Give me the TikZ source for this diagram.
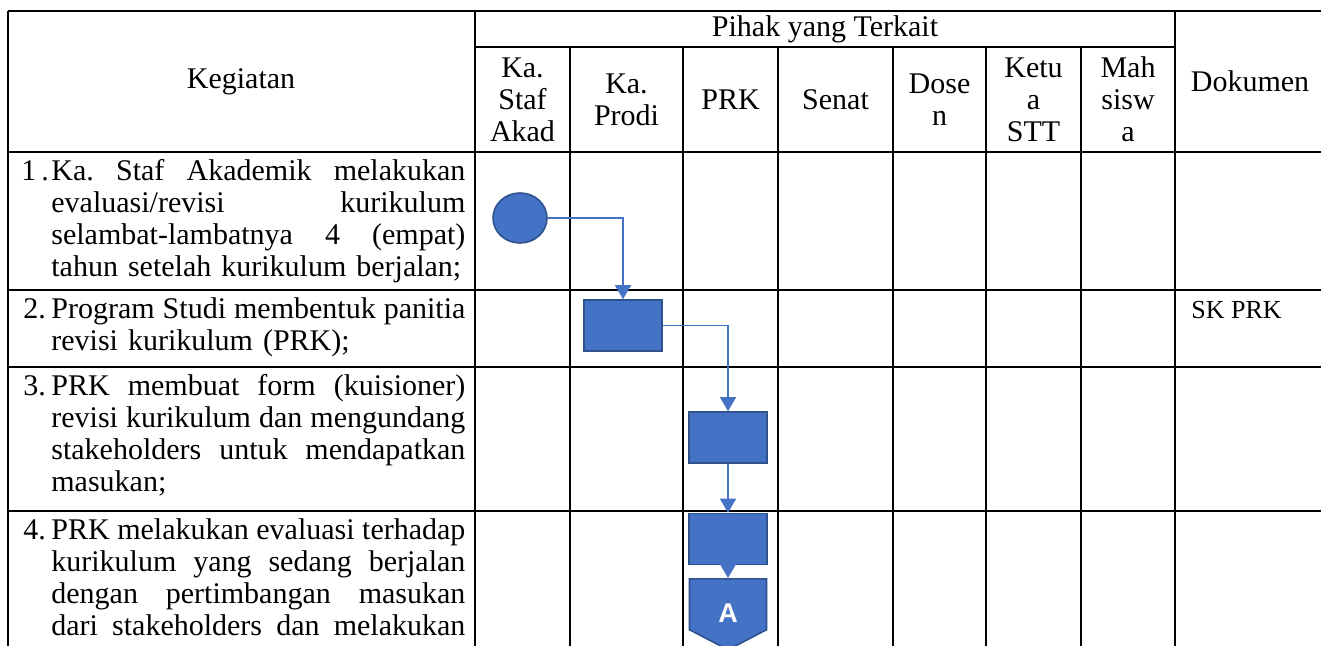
\documentclass[tikz,border=0pt]{standalone}
\usepackage{fontspec}
\setmainfont{Liberation Serif}
\newfontfamily\labelfont{Liberation Sans}
\usetikzlibrary{arrows.meta,shapes.geometric,shapes.symbols}
\definecolor{flowfill}{HTML}{4472C4}
\definecolor{flowedge}{HTML}{2F528F}
% one justified line of a task cell
\newcommand{\jline}[1]{\leavevmode{\spaceskip=0.25em plus 1fil\hbox to 207pt{#1}}}
\frenchspacing

\begin{document}
\begin{tikzpicture}[
  x=0.5pt, y=-0.5pt,
  font=\fontsize{15}{16}\selectfont,
  >={Triangle[width=8pt,length=7pt]},
  grid/.style={line width=1pt, draw=black},
  head/.style={align=center, inner sep=0pt},
  num/.style={anchor=base west, inner sep=0pt},
  task/.style={anchor=base west, text width=207pt, align=left, inner sep=0pt},
  startnode/.style={ellipse, fill=flowfill, draw=flowedge, line width=0.8pt,
                    minimum width=27pt, minimum height=25pt, inner sep=0pt},
  process/.style={rectangle, fill=flowfill, draw=flowedge, line width=0.8pt,
                  minimum width=39pt, minimum height=25.5pt, inner sep=0pt},
  offpage/.style={signal, signal to=south, signal pointer angle=125,
                  fill=flowfill, draw=flowedge, line width=0.8pt,
                  minimum width=38.5pt, minimum height=28pt, inner sep=0pt,
                  text=white, font=\labelfont\bfseries\fontsize{13.5}{14}\selectfont},
  flow/.style={->, line width=0.6pt, draw=flowfill}
]
\useasboundingbox (0,0) rectangle (1321,645);
\clip (0,0) rectangle (1321,645);

% Table grid
\draw[grid] (8,11) -- (1330,11);
\draw[grid] (475,47) -- (1175,47);
\draw[grid] (8,152) -- (1330,152);
\foreach \y in {290,367,511}
  \draw[grid] (8,\y) -- (1330,\y);
\foreach \x in {8,475,1175}
  \draw[grid] (\x,11) -- (\x,660);
\foreach \x in {570,683,778,893,986,1081}
  \draw[grid] (\x,47) -- (\x,660);

% Header
\node[head] (kegiatan) at (241,81.5) {Kegiatan};
\node[head] (pihak) at (825,29) {Pihak yang Terkait};
\node[head] (hstaf) at (522.5,99.5) {Ka.\\Staf\\Akad};
\node[head] (hprodi) at (626.5,99.5) {Ka.\\Prodi};
\node[head] (hprk) at (730.5,99.5) {PRK};
\node[head] (hsenat) at (835.5,99.5) {Senat};
\node[head] (hdosen) at (939.5,99.5) {Dose\\n};
\node[head] (hketua) at (1033.5,99.5) {Ketu\\a\\STT};
\node[head] (hmhs) at (1128,99.5) {Mah\\sisw\\a};
\node[head] (dokumen) at (1250,81.5) {Dokumen};

% Kegiatan rows
\node[num] (n1) at (21,180) {1\,.};
\node[task] (t1) at (51,180)
  {\jline{Ka. Staf Akademik melakukan}\\
   \jline{evaluasi/revisi kurikulum}\\
   \jline{selambat-lambatnya 4 (empat)}\\
   tahun setelah kurikulum berjalan;};
\node[num] (n2) at (23,318) {2.};
\node[task] (t2) at (51,318)
  {\jline{Program Studi membentuk panitia}\\
   revisi kurikulum (PRK);};
\node[num] (n3) at (23,395) {3.};
\node[task] (t3) at (51,395)
  {\jline{PRK membuat form (kuisioner)}\\
   \jline{revisi kurikulum dan mengundang}\\
   \jline{stakeholders untuk mendapatkan}\\
   masukan;};
\node[num] (n4) at (23,539) {4.};
\node[task] (t4) at (51,539)
  {\jline{PRK melakukan evaluasi terhadap}\\
   \jline{kurikulum yang sedang berjalan}\\
   \jline{dengan pertimbangan masukan}\\
   \jline{dari stakeholders dan melakukan}};

% Dokumen
\node[anchor=base west, inner sep=0pt, font=\fontsize{13}{14}\selectfont] (sk) at (1191,318) {SK PRK};

% Flow
\node[startnode] (start) at (520,218) {};
\node[process] (panitia) at (623,325.5) {};
\node[process] (form) at (728,437.5) {};
\node[process] (evaluasi) at (728,539) {};
\node[offpage, anchor=north] (conA) at (728,578) {\raisebox{-9pt}[0pt][0pt]{A}};

\draw[flow] (start.east) -| (panitia.north);
\draw[flow] (panitia.east) -| (form.north);
\draw[flow] (form) -- (evaluasi);
\draw[flow] (evaluasi) -- (conA);

\end{tikzpicture}
\end{document}
